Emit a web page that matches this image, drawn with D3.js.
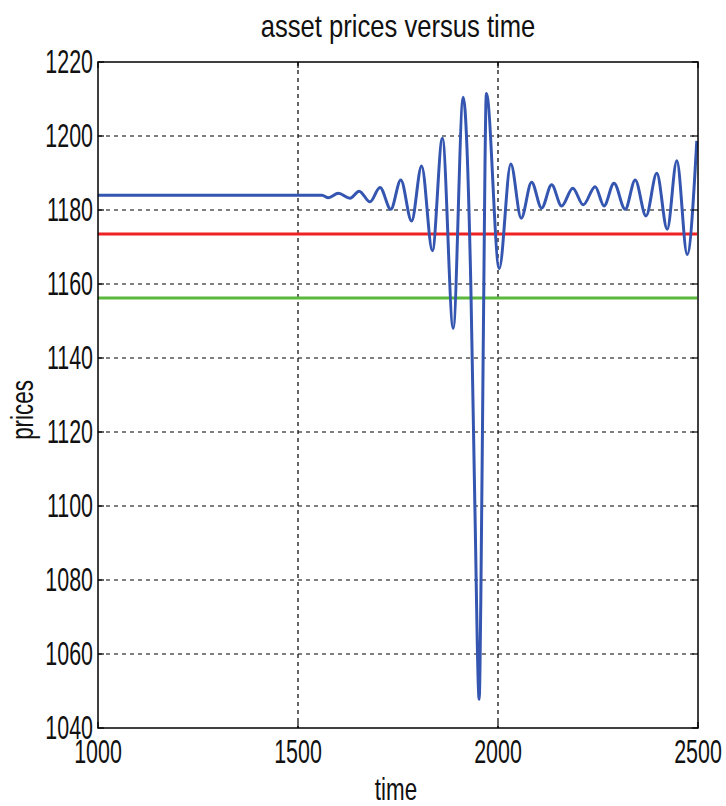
<!DOCTYPE html>
<html><head><meta charset="utf-8">
<script src="https://cdn.jsdelivr.net/npm/d3@7"></script>
<style>html,body{margin:0;padding:0;background:#fff;}svg{display:block;}</style>
</head><body>
<svg id="c" width="726" height="806"></svg>
<script>
const title = "asset prices versus time";
const xLabel = "time";
const yLabel = "prices";
const xTicks = [1000, 1500, 2000, 2500];
const yTicks = [1040, 1060, 1080, 1100, 1120, 1140, 1160, 1180, 1200, 1220];
const times  = [1000,1560,1576,1601,1630,1653,1680,1705,1732,1757,1784,1809,1836,1861,1888,1913,1932,1942,1953,1957,1963,1971,2003,2032,2058,2084,2109,2134,2159,2187,2213,2243,2265,2290,2318,2343,2370,2397,2423,2447,2473,2497];
const prices = [1184,1184,1183.3,1184.5,1183.2,1185.1,1182.2,1186.1,1180.2,1188.1,1177.0,1191.9,1169.0,1199.4,1148.0,1210.5,1160,1101,1047.8,1074,1142,1211.5,1164.2,1192.4,1177.8,1187.5,1180.5,1186.8,1181.1,1185.9,1181.4,1186.3,1181.1,1187.2,1180.2,1188.1,1178.4,1189.9,1174.8,1193.3,1168.0,1198.7];
const redLevel = 1173.5;
const greenLevel = 1156.2;

const svg = d3.select("#c");
const L = 98, R = 698, T = 62, B = 728;
const x = d3.scaleLinear().domain([1000, 2500]).range([L, R]);
const y = d3.scaleLinear().domain([1040, 1220]).range([B, T]);

function txt(px, py, s, size, sx, anchor, rot) {
  const g = svg.append("g").attr("transform", `translate(${px},${py})` + (rot ? ` rotate(${rot})` : "") + ` scale(${sx},1)`);
  g.append("text").attr("font-family", "Liberation Sans, Arial, sans-serif")
    .attr("font-size", size).attr("text-anchor", anchor).attr("fill", "#111").text(s);
}

// grid
const grid = svg.append("g").attr("stroke", "#000").attr("stroke-width", 1.2).attr("stroke-dasharray", "4,4");
xTicks.slice(1, -1).forEach(t => grid.append("line").attr("x1", x(t)).attr("x2", x(t)).attr("y1", T).attr("y2", B));
yTicks.slice(1, -1).forEach(t => grid.append("line").attr("x1", L).attr("x2", R).attr("y1", y(t)).attr("y2", y(t)));

// horizontal level lines
svg.append("line").attr("x1", L).attr("x2", R - 1).attr("y1", y(redLevel)).attr("y2", y(redLevel))
  .attr("stroke", "#ee2222").attr("stroke-width", 3);
svg.append("line").attr("x1", L).attr("x2", R - 1).attr("y1", y(greenLevel)).attr("y2", y(greenLevel))
  .attr("stroke", "#5cb83c").attr("stroke-width", 3);

// series
const pts = times.map((t, i) => [t, prices[i]]);
svg.append("path").datum(pts)
  .attr("d", d3.line().x(d => x(d[0])).y(d => y(d[1])).curve(d3.curveMonotoneX))
  .attr("fill", "none").attr("stroke", "#3456b0").attr("stroke-width", 3);

// frame and ticks
svg.append("rect").attr("x", L).attr("y", T).attr("width", R - L).attr("height", B - T)
  .attr("fill", "none").attr("stroke", "#000").attr("stroke-width", 1.5);
const tk = svg.append("g").attr("stroke", "#000").attr("stroke-width", 1.2);
xTicks.forEach(t => {
  tk.append("line").attr("x1", x(t)).attr("x2", x(t)).attr("y1", B).attr("y2", B - 6);
  tk.append("line").attr("x1", x(t)).attr("x2", x(t)).attr("y1", T).attr("y2", T + 6);
});
yTicks.forEach(t => {
  tk.append("line").attr("x1", L).attr("x2", L + 6).attr("y1", y(t)).attr("y2", y(t));
  tk.append("line").attr("x1", R).attr("x2", R - 6).attr("y1", y(t)).attr("y2", y(t));
});

// labels
yTicks.forEach(t => txt(L - 5, y(t) + 11, String(t), 34, 0.63, "end"));
xTicks.forEach(t => txt(x(t), B + 35, String(t), 34, 0.63, "middle"));
txt(398, 37, title, 32, 0.8, "middle");
txt(396, 800, xLabel, 32, 0.7, "middle");
txt(33, 410, yLabel, 32, 0.7, "middle", -90);
</script>
</body></html>
